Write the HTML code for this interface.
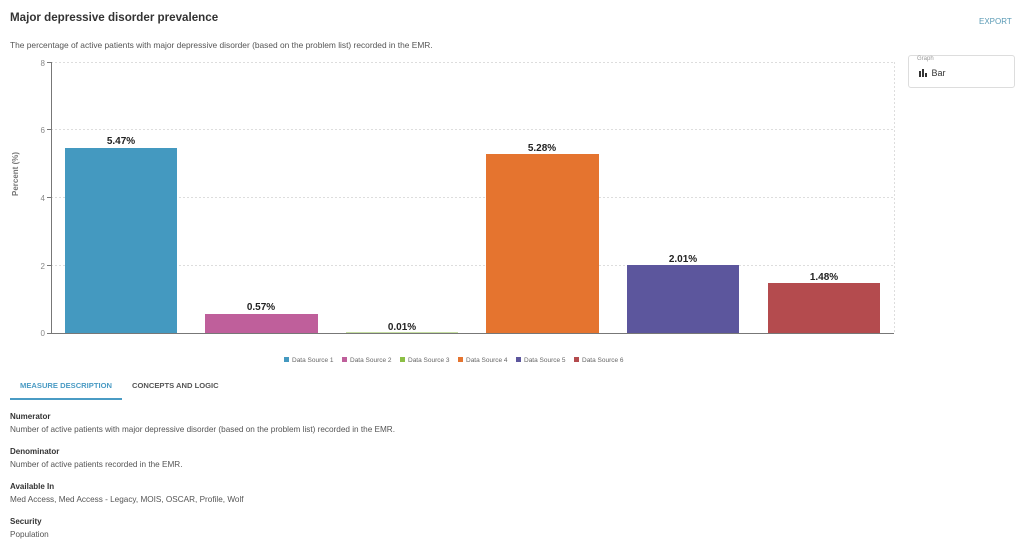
<!DOCTYPE html>
<html><head><meta charset="utf-8"><style>
body{margin:0;width:1024px;height:550px;background:#fff;font-family:"Liberation Sans",sans-serif;overflow:hidden;position:relative;color:#333}
.abs{position:absolute}
h1{position:absolute;left:10px;top:11px;margin:0;font-size:11.6px;font-weight:bold;color:#333}
.sub{left:10px;top:40px;font-size:8.4px;color:#555}
.exp{left:979px;top:17px;font-size:8px;color:#5a9ab5}
.gbox{left:908px;top:55px;width:105px;height:31px;border:1px solid #ddd;border-radius:3px}
.tab{font-size:7.6px;font-weight:bold;top:381px}
.lbl{font-size:8px;font-weight:bold;color:#333;left:10px}
.txt{font-size:8.2px;color:#555;left:10px}
</style></head><body>
<h1>Major depressive disorder prevalence</h1>
<div class="abs sub">The percentage of active patients with major depressive disorder (based on the problem list) recorded in the EMR.</div>
<div class="abs exp">EXPORT</div>
<div class="abs gbox"><div class="abs" style="left:8px;top:0px;font-size:6px;color:#999">Graph</div>
<div class="abs" style="left:10px;top:12px;font-size:9px;color:#333"><svg width="10" height="8" style="vertical-align:-1px"><rect x="0" y="2" width="2" height="6" fill="#333"/><rect x="3" y="0" width="2" height="8" fill="#333"/><rect x="6" y="4" width="2" height="4" fill="#333"/></svg> Bar</div></div>
<svg class="abs" style="left:0;top:0" width="1024" height="370" font-family="Liberation Sans, sans-serif">
<g stroke="#ddd" stroke-dasharray="2,2" stroke-width="1">
<line x1="51" y1="62.5" x2="894" y2="62.5"/><line x1="51" y1="129.5" x2="894" y2="129.5"/><line x1="51" y1="197.5" x2="894" y2="197.5"/><line x1="51" y1="265.5" x2="894" y2="265.5"/><line x1="894.5" y1="62" x2="894.5" y2="333"/></g>
<g fill="#888" font-size="8" text-anchor="end"><text x="45" y="66">8</text><text x="45" y="133">6</text><text x="45" y="201">4</text><text x="45" y="269">2</text><text x="45" y="336">0</text></g>
<g stroke="#777"><line x1="47" y1="62.5" x2="51" y2="62.5"/><line x1="47" y1="129.5" x2="51" y2="129.5"/><line x1="47" y1="197.5" x2="51" y2="197.5"/><line x1="47" y1="265.5" x2="51" y2="265.5"/><line x1="47" y1="333.5" x2="51" y2="333.5"/></g>
<text transform="translate(18,174) rotate(-90)" font-size="8" fill="#777" text-anchor="middle" font-weight="bold">Percent (%)</text>
<rect x="65" y="148" width="112" height="185" fill="#4499c0"/>
<rect x="205" y="314" width="113" height="19" fill="#bf5f9b"/>
<rect x="346" y="332.5" width="112" height="0.7" fill="#8cbf45"/>
<rect x="486" y="154" width="113" height="179" fill="#e5742f"/>
<rect x="627" y="265" width="112" height="68" fill="#5c569d"/>
<rect x="768" y="283" width="112" height="50" fill="#b44b4e"/>
<line x1="51.5" y1="62" x2="51.5" y2="334" stroke="#777"/>
<line x1="51" y1="333.5" x2="894" y2="333.5" stroke="#777"/>
<g font-size="10" font-weight="bold" fill="#222" text-anchor="middle">
<text x="121" y="144">5.47%</text><text x="261" y="310">0.57%</text><text x="402" y="330">0.01%</text><text x="542" y="151">5.28%</text><text x="683" y="262">2.01%</text><text x="824" y="280">1.48%</text></g>
<g font-size="6.5" fill="#666">
<rect x="284" y="357" width="5" height="5" fill="#4499c0"/><text x="292" y="362">Data Source 1</text>
<rect x="342" y="357" width="5" height="5" fill="#bf5f9b"/><text x="350" y="362">Data Source 2</text>
<rect x="400" y="357" width="5" height="5" fill="#8cbf45"/><text x="408" y="362">Data Source 3</text>
<rect x="458" y="357" width="5" height="5" fill="#e5742f"/><text x="466" y="362">Data Source 4</text>
<rect x="516" y="357" width="5" height="5" fill="#5c569d"/><text x="524" y="362">Data Source 5</text>
<rect x="574" y="357" width="5" height="5" fill="#b44b4e"/><text x="582" y="362">Data Source 6</text></g>
</svg>
<div class="abs tab" style="left:20px;color:#4a9bc4">MEASURE DESCRIPTION</div>
<div class="abs tab" style="left:132px;color:#555">CONCEPTS AND LOGIC</div>
<div class="abs" style="left:10px;top:398px;width:112px;height:2px;background:#4a9bc4"></div>
<div class="abs lbl" style="top:412px">Numerator</div>
<div class="abs txt" style="top:425px">Number of active patients with major depressive disorder (based on the problem list) recorded in the EMR.</div>
<div class="abs lbl" style="top:447px">Denominator</div>
<div class="abs txt" style="top:460px">Number of active patients recorded in the EMR.</div>
<div class="abs lbl" style="top:482px">Available In</div>
<div class="abs txt" style="top:495px">Med Access, Med Access - Legacy, MOIS, OSCAR, Profile, Wolf</div>
<div class="abs lbl" style="top:517px">Security</div>
<div class="abs txt" style="top:530px">Population</div>
</body></html>
